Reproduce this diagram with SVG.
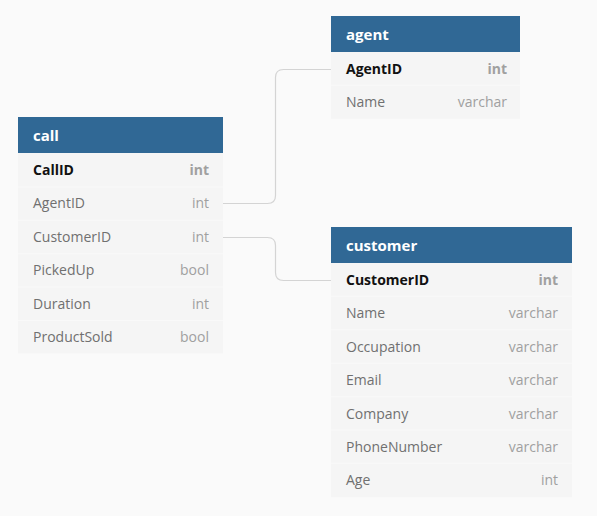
<svg xmlns="http://www.w3.org/2000/svg" width="597" height="516" viewBox="0 0 597 516">
<style>
.bg{fill:#fafafa}
.hd{fill:#306895}
.bd{fill:#f5f5f5}
.sep{stroke:#f9f9f9;stroke-width:1}
.title{font-family:"Open Sans",sans-serif;font-size:15px;font-weight:bold;fill:#ffffff}
.fn{font-family:"Open Sans",sans-serif;font-size:14px;fill:#707070}
.fk{font-family:"Open Sans",sans-serif;font-size:14px;font-weight:bold;fill:#111111}
.ty{font-family:"Open Sans",sans-serif;font-size:14px;fill:#a0a0a0;text-anchor:end}
.tk{font-family:"Open Sans",sans-serif;font-size:14px;font-weight:bold;fill:#a0a0a0;text-anchor:end}
.conn{fill:none;stroke:#d4d4d4;stroke-width:1.2}
</style>
<rect class="bg" x="0" y="0" width="597" height="516"/>
<g id="connectors">
<path class="conn" d="M223 203.5 H267.5 Q275.5 203.5 275.5 195.5 V77.5 Q275.5 69.5 283.5 69.5 H331"/>
<path class="conn" d="M223 237.5 H267.5 Q275.5 237.5 275.5 245.5 V272.5 Q275.5 280.5 283.5 280.5 H331"/>
</g>
<g id="call">
<rect class="bd" x="18" y="117" width="205" height="236.4"/>
<rect class="hd" x="18" y="117" width="205" height="36"/>
<text class="title" x="33" y="140.5">call</text>
<line class="sep" x1="18" y1="186.9" x2="223" y2="186.9"/>
<line class="sep" x1="18" y1="220.3" x2="223" y2="220.3"/>
<line class="sep" x1="18" y1="253.7" x2="223" y2="253.7"/>
<line class="sep" x1="18" y1="287.1" x2="223" y2="287.1"/>
<line class="sep" x1="18" y1="320.5" x2="223" y2="320.5"/>
<text class="fk" x="33" y="175">CallID</text><text class="tk" x="209" y="175">int</text>
<text class="fn" x="33" y="208.4">AgentID</text><text class="ty" x="209" y="208.4">int</text>
<text class="fn" x="33" y="241.8">CustomerID</text><text class="ty" x="209" y="241.8">int</text>
<text class="fn" x="33" y="275.2">PickedUp</text><text class="ty" x="209" y="275.2">bool</text>
<text class="fn" x="33" y="308.6">Duration</text><text class="ty" x="209" y="308.6">int</text>
<text class="fn" x="33" y="342">ProductSold</text><text class="ty" x="209" y="342">bool</text>
</g>
<g id="agent">
<rect class="bd" x="331" y="16" width="189" height="102.8"/>
<rect class="hd" x="331" y="16" width="189" height="36"/>
<text class="title" x="346" y="39.5">agent</text>
<line class="sep" x1="331" y1="85.4" x2="520" y2="85.4"/>
<text class="fk" x="346" y="74">AgentID</text><text class="tk" x="507" y="74">int</text>
<text class="fn" x="346" y="107.4">Name</text><text class="ty" x="507" y="107.4">varchar</text>
</g>
<g id="customer">
<rect class="bd" x="331" y="227" width="241" height="270.2"/>
<rect class="hd" x="331" y="227" width="241" height="36"/>
<text class="title" x="346" y="250.5">customer</text>
<line class="sep" x1="331" y1="296.4" x2="572" y2="296.4"/>
<line class="sep" x1="331" y1="329.8" x2="572" y2="329.8"/>
<line class="sep" x1="331" y1="363.2" x2="572" y2="363.2"/>
<line class="sep" x1="331" y1="396.6" x2="572" y2="396.6"/>
<line class="sep" x1="331" y1="430" x2="572" y2="430"/>
<line class="sep" x1="331" y1="463.4" x2="572" y2="463.4"/>
<text class="fk" x="346" y="285">CustomerID</text><text class="tk" x="558" y="285">int</text>
<text class="fn" x="346" y="318.4">Name</text><text class="ty" x="558" y="318.4">varchar</text>
<text class="fn" x="346" y="351.8">Occupation</text><text class="ty" x="558" y="351.8">varchar</text>
<text class="fn" x="346" y="385.2">Email</text><text class="ty" x="558" y="385.2">varchar</text>
<text class="fn" x="346" y="418.6">Company</text><text class="ty" x="558" y="418.6">varchar</text>
<text class="fn" x="346" y="452">PhoneNumber</text><text class="ty" x="558" y="452">varchar</text>
<text class="fn" x="346" y="485.4">Age</text><text class="ty" x="558" y="485.4">int</text>
</g>
</svg>
